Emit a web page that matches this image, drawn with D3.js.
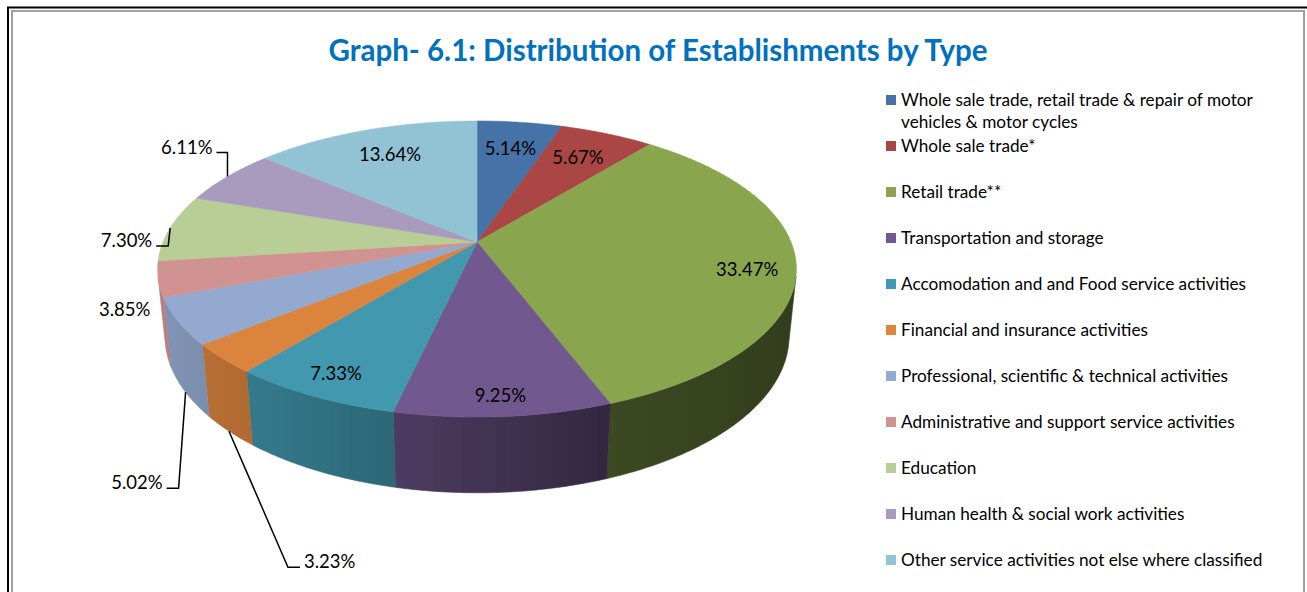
<!DOCTYPE html>
<html>
<head>
<meta charset="utf-8">
<script src="https://cdn.jsdelivr.net/npm/d3@7/dist/d3.min.js"></script>
<style>
  body { margin: 0; background: #fff; }
  text { font-family: Lato, "Open Sans", sans-serif; }
</style>
</head>
<body>
<svg id="canvas"></svg>
<script>
let categories = [
    'Whole sale trade, retail trade & repair of motor vehicles & motor cycles',
    'Whole sale trade*',
    'Retail trade**',
    'Transportation and storage',
    'Accomodation and and Food service activities',
    'Financial and insurance activities',
    'Professional, scientific & technical activities',
    'Administrative and support service activities',
    'Education',
    'Human health & social work activities',
    'Other service activities not else where classified'
]
let shares = [5.14, 5.67, 33.47, 9.25, 7.33, 3.23, 5.02, 3.85, 7.30, 6.11, 13.64]
let colors = ['#4572A7', '#AA4643', '#89A54E', '#71588F', '#4198AF', '#DB843D',
              '#93A9CF', '#D19392', '#B9CD96', '#A99BBD', '#92C3D5']

// where each data label sits: inside at a radius fraction, or outside with a leader line
let labelLayout = [
    { r: 0.75 },
    { r: 0.75 },
    { r: 0.85, dy: 8 },
    { r: 0.9 },
    { r: 0.88 },
    { rim: 'bottom', elbow: [59, 136], arm: 12 },
    { rim: 'bottom', elbow: [-7, 96], arm: -12 },
    { rim: 'top', elbow: [-4, 36], arm: 0, noLine: true },
    { rim: 'top', elbow: [-2, 18], arm: -12 },
    { rim: 'top', elbow: [0, -24], arm: -11 },
    { r: 0.75 }
]

let width = 1307
let height = 592

let canvas = d3.select('#canvas')
canvas.attr('width', width)
canvas.attr('height', height)

// 3d pie geometry
let cx = 477
let cy = 242
let R = 314
let depth = 76
let tilt = Math.asin(0.4557)
let camDist = 1533
let sinT = Math.sin(tilt)
let cosT = Math.cos(tilt)

let project = (theta, r, yw) => {
    let X = R * r * Math.sin(theta)
    let Z = R * r * Math.cos(theta)
    let u = Z * sinT + yw * cosT
    let d = Z * cosT - yw * sinT
    let s = camDist / (camDist + d)
    return [cx + X * s, cy - u * s]
}

let arcs = d3.pie().sort(null).value((d) => d)(shares)

let arcPoints = (a0, a1, r, yw) => {
    let n = Math.max(2, Math.ceil(Math.abs(a1 - a0) / 0.008))
    return d3.range(n + 1).map((i) => project(a0 + (a1 - a0) * i / n, r, yw))
}

let shade = (c, f) => {
    let col = d3.rgb(c)
    return d3.rgb(col.r * f, col.g * f, col.b * f).formatHex()
}

// frame
canvas.append('rect')
    .attr('x', 12).attr('y', 11)
    .attr('width', 1292).attr('height', 600)
    .attr('fill', 'none')
    .attr('stroke', '#a0a0a0')
    .attr('stroke-width', 2)
canvas.append('line')
    .attr('x1', 8).attr('x2', 8).attr('y1', 7).attr('y2', height)
    .attr('stroke', '#000').attr('stroke-width', 2)
canvas.append('line')
    .attr('x1', 7).attr('x2', width).attr('y1', 7.5).attr('y2', 7.5)
    .attr('stroke', '#000').attr('stroke-width', 2)

// title
canvas.append('text')
    .attr('x', 658)
    .attr('y', 61)
    .attr('text-anchor', 'middle')
    .attr('fill', '#0070C0')
    .attr('font-weight', 'bold')
    .attr('font-size', 29.5)
    .text('Graph- 6.1: Distribution of Establishments by Type')

// wall gradients (lit from the left)
let defs = canvas.append('defs')
colors.forEach((c, i) => {
    let g = defs.append('linearGradient')
        .attr('id', 'wall' + i)
        .attr('gradientUnits', 'userSpaceOnUse')
        .attr('x1', cx - R * 1.02).attr('x2', cx + R * 1.02)
        .attr('y1', 0).attr('y2', 0)
    let stops = [[0, 0.88], [0.38, 0.67], [0.71, 0.44], [1, 0.37]]
    stops.forEach((s) => {
        g.append('stop').attr('offset', s[0]).attr('stop-color', shade(c, s[1]))
    })
})

// side walls, only the part facing the viewer
let k = R / (camDist * cosT)
let visFrom = Math.acos(-k)
let visTo = 2 * Math.PI - visFrom

let line = d3.line()

canvas.append('g')
    .selectAll('path')
    .data(arcs.filter((d) => d.endAngle > visFrom && d.startAngle < visTo))
    .enter()
    .append('path')
    .attr('d', (d) => {
        let a0 = Math.max(d.startAngle, visFrom)
        let a1 = Math.min(d.endAngle, visTo)
        let top = arcPoints(a0, a1, 1, 0)
        let bottom = arcPoints(a1, a0, 1, -depth)
        return line(top.concat(bottom)) + 'Z'
    })
    .attr('fill', (d) => 'url(#wall' + d.index + ')')
    .attr('stroke', (d) => 'url(#wall' + d.index + ')')
    .attr('stroke-width', 0.6)

// top faces
canvas.append('g')
    .selectAll('path')
    .data(arcs)
    .enter()
    .append('path')
    .attr('d', (d) => line([project(0, 0, 0)].concat(arcPoints(d.startAngle, d.endAngle, 1, 0))) + 'Z')
    .attr('fill', (d) => colors[d.index])
    .attr('stroke', (d) => colors[d.index])
    .attr('stroke-width', 0.6)

// data labels
let labels = canvas.append('g')
arcs.forEach((d) => {
    let lay = labelLayout[d.index]
    let mid = (d.startAngle + d.endAngle) / 2
    let txt = d.data.toFixed(2) + '%'
    if (lay.r) {
        let p = project(mid, lay.r, 0)
        labels.append('text')
            .attr('x', p[0]).attr('y', p[1] + 6 + (lay.dy || 0))
            .attr('text-anchor', 'middle')
            .attr('font-size', 18.5)
            .attr('fill', '#000')
            .text(txt)
        return
    }
    let a = project(mid, 1, lay.rim == 'top' ? 0 : -depth)
    let e = [a[0] + lay.elbow[0], a[1] + lay.elbow[1]]
    let end = [e[0] + lay.arm, e[1]]
    if (!lay.noLine) {
        labels.append('path')
            .attr('d', line([a, e, end]))
            .attr('fill', 'none')
            .attr('stroke', '#000')
            .attr('stroke-width', 1.5)
    }
    let dir = lay.arm >= 0 && !lay.noLine ? 1 : -1
    labels.append('text')
        .attr('x', end[0] + dir * 4)
        .attr('y', end[1] + 1)
        .attr('text-anchor', dir > 0 ? 'start' : 'end')
        .attr('font-size', 18.5)
        .attr('fill', '#000')
        .text(txt)
})

// legend
let legendY = d3.scaleLinear().domain([0, categories.length - 1]).range([100, 560])
let legend = canvas.append('g')
categories.forEach((name, i) => {
    let y = legendY(i)
    legend.append('rect')
        .attr('x', 886).attr('y', y - 5)
        .attr('width', 10).attr('height', 10)
        .attr('fill', colors[i])
    let t = legend.append('text')
        .attr('x', 901)
        .attr('y', y + 6)
        .attr('font-size', 17.2)
        .attr('fill', '#000')
    // wrap long names
    let words = name.split(' ')
    let span = t.append('tspan').attr('x', 901).attr('dy', 0)
    let current = []
    words.forEach((w) => {
        current.push(w)
        span.text(current.join(' '))
        if (span.node().getComputedTextLength() > 370 && current.length > 1) {
            current.pop()
            span.text(current.join(' '))
            current = [w]
            span = t.append('tspan').attr('x', 901).attr('dy', 22).text(w)
        }
    })
})
</script>
</body>
</html>
